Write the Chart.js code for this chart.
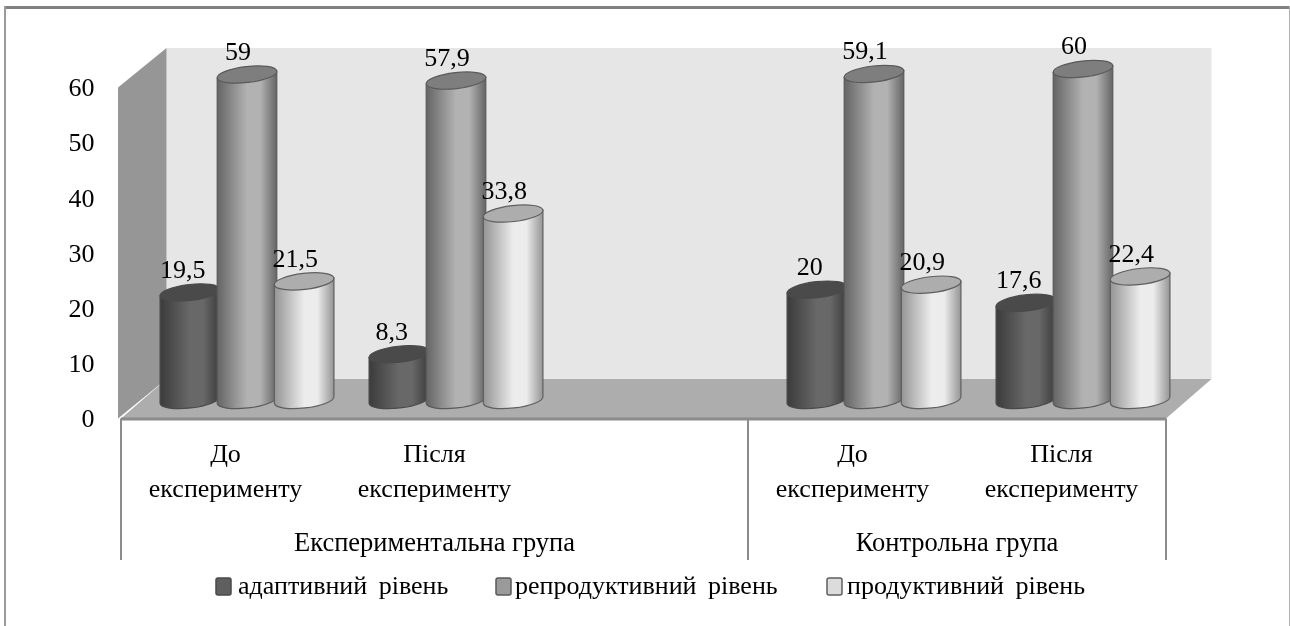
<!DOCTYPE html>
<html lang="uk">
<head>
<meta charset="utf-8">
<title>Рівні</title>
<script src="https://cdn.jsdelivr.net/npm/chart.js@4"></script>
<style>
  html, body { margin: 0; padding: 0; background: #fff; overflow: hidden; }
  canvas { display: block; }
</style>
</head>
<body>
<canvas id="grafico" width="1290" height="626"></canvas>
<script>
const categorias = [
  ["До", "експерименту"],
  ["Після", "експерименту"],
  "",
  ["До", "експерименту"],
  ["Після", "експерименту"],
];
const grupos = ["Експериментальна група", "Контрольна група"];
const gruposSpan = [[0, 3], [3, 5]];

const adaptivnyi = [19.5, 8.3, null, 20, 17.6];
const reproduktyvnyi = [59, 57.9, null, 59.1, 60];
const produktyvnyi = [21.5, 33.8, null, 20.9, 22.4];

const FONTE = '"Liberation Serif", "Times New Roman", serif';

// profundidade do "3D": paredes e eixo frontal saem do chartArea
const FRENTE_X = 21.5, FRENTE_Y = 18.5, FUNDO_X = 24, FUNDO_Y = 21;
const RAIO_Y = 8, GIRO = -0.115;

const tons = [
  { borda: "#3b3b3b", meio: "#686868", topo: "#4a4a4a", linha: "#4a4a4a" },
  { borda: "#646464", meio: "#b2b2b2", topo: "#7e7e7e", linha: "#5a5a5a" },
  { borda: "#949494", meio: "#ececec", topo: "#adadad", linha: "#5f5f5f" },
];
const legendaCaixaX = [216, 496, 827];
const legendaTextoX = [238, 515, 847];

function poligono(ctx, pontos, cor) {
  ctx.beginPath();
  pontos.forEach((p, i) => (i ? ctx.lineTo(p[0], p[1]) : ctx.moveTo(p[0], p[1])));
  ctx.closePath();
  ctx.fillStyle = cor;
  ctx.fill();
}

function desenharCilindro(ctx, bar, tom) {
  const rx = bar.width / 2;
  const dx = rx * Math.cos(GIRO), dy = rx * Math.sin(GIRO);

  const g = ctx.createLinearGradient(bar.x - rx, 0, bar.x + rx, 0);
  g.addColorStop(0, tom.borda);
  g.addColorStop(0.5, tom.meio);
  g.addColorStop(0.72, tom.meio);
  g.addColorStop(1, tom.borda);

  ctx.beginPath();
  ctx.moveTo(bar.x - dx, bar.y - dy);
  ctx.lineTo(bar.x - dx, bar.base - dy);
  ctx.ellipse(bar.x, bar.base, rx, RAIO_Y, GIRO, Math.PI, 0, true);
  ctx.lineTo(bar.x + dx, bar.y + dy);
  ctx.closePath();
  ctx.fillStyle = g;
  ctx.fill();
  ctx.strokeStyle = tom.linha;
  ctx.lineWidth = 1.2;
  ctx.stroke();

  ctx.beginPath();
  ctx.ellipse(bar.x, bar.y, rx, RAIO_Y, GIRO, 0, Math.PI * 2);
  ctx.fillStyle = tom.topo;
  ctx.fill();
  ctx.stroke();
}

const cenario3d = {
  id: "cenario3d",
  beforeDatasetsDraw(chart) {
    const ctx = chart.ctx;
    const a = chart.chartArea;
    const esq = a.left - FRENTE_X, dir = a.right - FRENTE_X;
    const fx = a.left + FUNDO_X, fxDir = a.right + FUNDO_X;
    const chao = a.bottom + FRENTE_Y, chaoFundo = a.bottom - FUNDO_Y;
    const topo = a.top + FRENTE_Y, topoFundo = a.top - FUNDO_Y;

    ctx.save();
    // moldura
    ctx.fillStyle = "#808080";
    ctx.fillRect(5, 6, 1285, 3);
    ctx.fillStyle = "#9a9a9a";
    ctx.fillRect(4, 6, 2, 620);
    ctx.fillStyle = "#b0b0b0";
    ctx.fillRect(1289, 6, 1, 620);

    poligono(ctx, [[fx, topoFundo], [fxDir, topoFundo], [fxDir, chaoFundo], [fx, chaoFundo]], "#e6e6e6");
    poligono(ctx, [[esq - 3, topo], [fx, topoFundo], [fx, chaoFundo], [esq - 3, chao]], "#969696");
    poligono(ctx, [[esq, chao], [fx, chaoFundo], [fxDir, chaoFundo], [dir, chao]], "#adadad");

    // eixo frontal com as divisorias dos grupos
    const passo = (a.right - a.left) / categorias.length;
    ctx.fillStyle = "#8c8c8c";
    ctx.fillRect(esq, chao - 1, dir - esq, 3);
    [0, 3, 5].forEach((n) => ctx.fillRect(esq + n * passo - 1, chao, 2, 560 - chao));
    ctx.restore();
  },
  beforeDatasetDraw() {
    return false; // quem desenha as barras e o afterDatasetsDraw, na ordem certa
  },
  afterDatasetsDraw(chart) {
    const ctx = chart.ctx;
    ctx.save();
    chart.data.datasets.forEach((ds, i) => {
      chart.getDatasetMeta(i).data.forEach((bar, j) => {
        if (ds.data[j] !== null) desenharCilindro(ctx, bar, tons[i]);
      });
    });

    ctx.fillStyle = "#000";
    ctx.font = "26px " + FONTE;
    ctx.textAlign = "center";
    ctx.textBaseline = "middle";
    chart.data.datasets.forEach((ds, i) => {
      chart.getDatasetMeta(i).data.forEach((bar, j) => {
        if (ds.data[j] === null) return;
        const texto = String(ds.data[j]).replace(".", ",");
        ctx.fillText(texto, bar.x - (i === 0 ? 7 : 9), bar.y - 21.5);
      });
    });

    // nivel de grupo do eixo x
    const a = chart.chartArea;
    const passo = (a.right - a.left) / categorias.length;
    ctx.font = "26.5px " + FONTE;
    grupos.forEach((nome, i) => {
      const meio = (gruposSpan[i][0] + gruposSpan[i][1]) / 2;
      ctx.fillText(nome, a.left - FRENTE_X + meio * passo, 544);
    });

    // legenda
    ctx.textAlign = "left";
    ctx.font = "26px " + FONTE;
    ctx.wordSpacing = "5px";
    chart.data.datasets.forEach((ds, i) => {
      ctx.beginPath();
      ctx.roundRect(legendaCaixaX[i], 578, 15, 17, 2);
      ctx.fillStyle = ds.backgroundColor;
      ctx.fill();
      ctx.strokeStyle = ds.borderColor;
      ctx.lineWidth = 1.5;
      ctx.stroke();
      ctx.fillStyle = "#000";
      ctx.fillText(ds.label, legendaTextoX[i], 587);
    });
    ctx.restore();
  },
};

new Chart(document.getElementById("grafico"), {
  type: "bar",
  data: {
    labels: categorias,
    datasets: [
      { label: "адаптивний рівень", data: adaptivnyi, backgroundColor: "#5f5f5f", borderColor: "#4a4a4a" },
      { label: "репродуктивний рівень", data: reproduktyvnyi, backgroundColor: "#9a9a9a", borderColor: "#5a5a5a" },
      { label: "продуктивний рівень", data: produktyvnyi, backgroundColor: "#dcdcdc", borderColor: "#5f5f5f" },
    ],
  },
  plugins: [cenario3d],
  options: {
    responsive: false,
    animation: false,
    categoryPercentage: 0.82,
    barPercentage: 1.05,
    layout: { padding: { top: 69, right: 102.5, bottom: 101, left: 20 } },
    scales: {
      x: {
        grid: { display: false },
        border: { display: false },
        afterFit(s) { s.height = 125; },
        ticks: {
          autoSkip: false,
          maxRotation: 0,
          labelOffset: -FRENTE_X,
          padding: 30,
          color: "#000",
          font: { family: FONTE, size: 26, lineHeight: 1.35 },
        },
      },
      y: {
        min: 0,
        max: 60,
        grid: { display: false },
        border: { display: false },
        afterFit(s) { s.width = 122.5; },
        ticks: {
          stepSize: 10,
          labelOffset: 20.5,
          padding: 40,
          color: "#000",
          font: { family: FONTE, size: 26 },
        },
      },
    },
    plugins: {
      tooltip: { enabled: false },
      legend: { display: false },
    },
  },
});
</script>
</body>
</html>
